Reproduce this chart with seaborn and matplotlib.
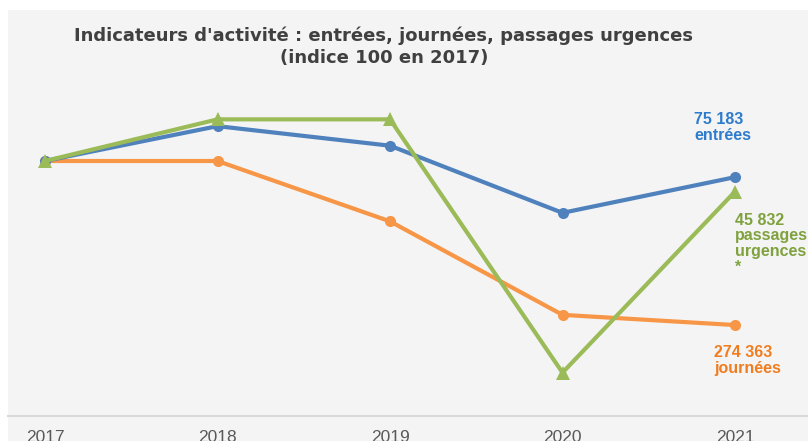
import matplotlib
matplotlib.use("Agg")
import matplotlib.pyplot as plt
import seaborn as sns
import pandas as pd

# indices (base 100 en 2017)
annees = ["2017", "2018", "2019", "2020", "2021"]
entrees = [100, 104.1, 101.8, 93.9, 98.1]
journees = [100, 100, 92.9, 81.9, 80.7]
passages = [100, 104.9, 104.9, 75.1, 96.4]

labels_fin = {
    "entrees": "75 183\nentrées",
    "passages": "45 832\npassages\nurgences\n*",
    "journees": "274 363\njournées",
}

bleu = "#4f81bd"
orange = "#f79646"
vert = "#9bbb59"

sns.set_style("white")
plt.rcParams["font.family"] = ["Liberation Sans", "DejaVu Sans"]

fig = plt.figure(figsize=(8.08, 4.41), dpi=100)
fig.patch.set_facecolor("white")
# fond gris du cadre
fig.patches.append(plt.Rectangle((8 / 808, 0), 1, 1 - 10 / 441, transform=fig.transFigure,
                                 facecolor="#f4f4f4", edgecolor="none", zorder=-10))
ax = fig.add_axes([8 / 808, 25 / 441, 800 / 808, 406 / 441])
ax.set_facecolor("none")

x = list(range(len(annees)))
df = pd.DataFrame({"x": x, "entrees": entrees, "journees": journees, "passages": passages})

sns.lineplot(data=df, x="x", y="journees", ax=ax, color=orange, lw=3.0,
             marker="o", markersize=8, markeredgewidth=0)
sns.lineplot(data=df, x="x", y="entrees", ax=ax, color=bleu, lw=3.0,
             marker="o", markersize=8, markeredgewidth=0)
sns.lineplot(data=df, x="x", y="passages", ax=ax, color=vert, lw=3.0,
             marker="^", markersize=10, markeredgewidth=0)

txt = dict(textcoords="offset pixels", ha="left", va="top",
           fontsize=11.5, fontweight="bold", linespacing=1.05)
ax.annotate(labels_fin["entrees"], (x[-1], entrees[-1]), xytext=(-41, 65),
            color="#2f7ccc", **txt)
ax.annotate(labels_fin["passages"], (x[-1], passages[-1]), xytext=(0, -21),
            color="#7fa23e", **txt)
ax.annotate(labels_fin["journees"], (x[-1], journees[-1]), xytext=(-21, -20),
            color="#f07d1f", **txt)

ax.set_xlim(-37 / 172.5, 763 / 172.5)
ax.set_ylim(70, 100 + 151 / 8.5)
ax.set_xticks(x)
ax.set_xticklabels(annees, fontsize=12.5, color="#595959")
ax.set_xticks([0.5, 1.5, 2.5, 3.5], minor=True)
ax.tick_params(axis="x", which="major", length=0, pad=10)
ax.tick_params(axis="x", which="minor", length=6, width=1, color="#d9d9d9", direction="out")
ax.set_yticks([])
ax.set_xlabel("")
ax.set_ylabel("")
for s in ["top", "left", "right"]:
    ax.spines[s].set_visible(False)
ax.spines["bottom"].set_color("#d9d9d9")
ax.spines["bottom"].set_linewidth(1.5)

fig.text(384 / 808, 1 - 47 / 441,
         "Indicateurs d'activité : entrées, journées, passages urgences\n(indice 100 en 2017)",
         ha="center", va="center", fontsize=13, fontweight="bold", color="#404040",
         family=["DejaVu Sans"], linespacing=1.3)

fig.savefig("out.png", dpi=100, facecolor=fig.get_facecolor())
